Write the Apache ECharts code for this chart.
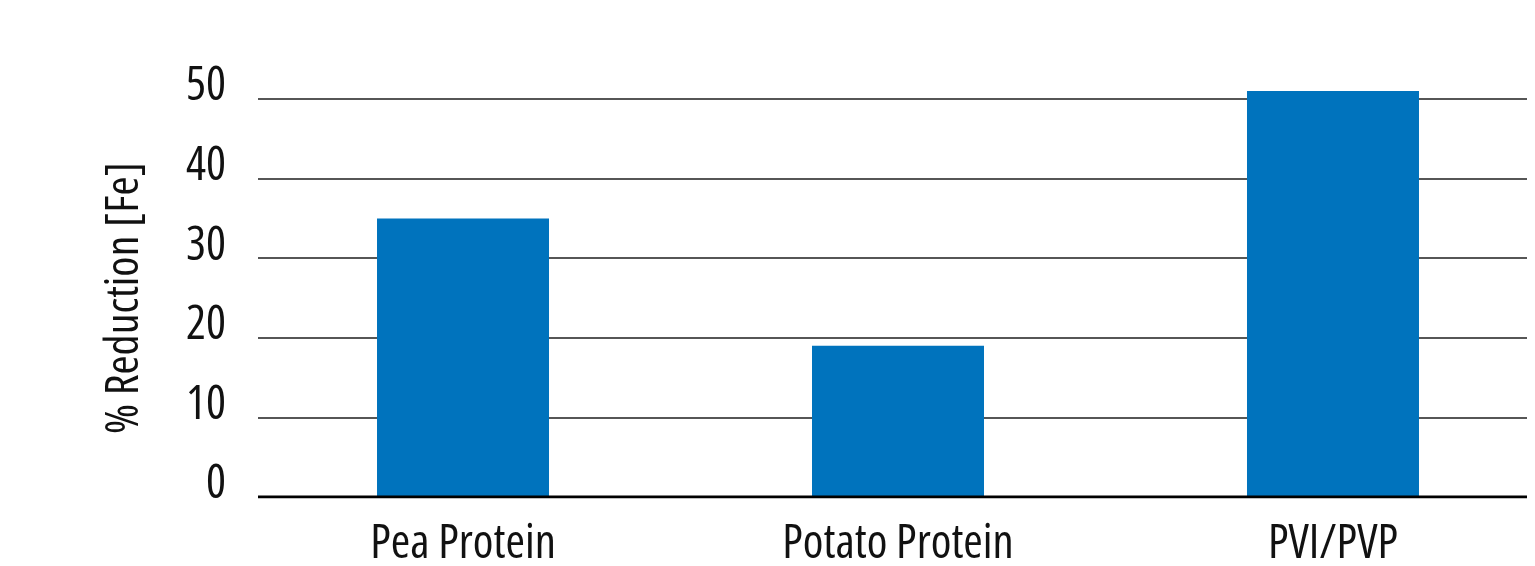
<!DOCTYPE html>
<html>
<head>
<meta charset="utf-8">
<script src="https://cdn.jsdelivr.net/npm/echarts@6/dist/echarts.min.js"></script>
<style>
html,body{margin:0;padding:0;background:#fff;}
#c{width:1535px;height:566px;}
</style>
</head>
<body>
<div id="c"></div>
<script>
var categories = ["Pea Protein", "Potato Protein", "PVI/PVP"];
var reduction = [35, 19, 51];
var yTicks = [0, 10, 20, 30, 40, 50];

var FONT = "'Open Sans', 'Liberation Sans', sans-serif";
var WEIGHT = 'normal condensed';
var barData = categories.map(function (c, i) { return [i, reduction[i]]; });
var chart = echarts.init(document.getElementById('c'));
var option = {
  backgroundColor: '#ffffff',
  animation: false,
  grid: {left: 258, right: 8, top: 99, bottom: 69, outerBoundsMode: 'none', containLabel: false},
  xAxis: {
    type: 'value', min: -0.4713, max: 2.446,
    axisLine: {show: false}, axisTick: {show: false}, splitLine: {show: false},
    axisLabel: {
      customValues: categories.map(function (c, i) { return i; }),
      formatter: function (v) { return categories[Math.round(v)]; },
      color: '#111', fontFamily: FONT, fontWeight: WEIGHT, fontSize: 47, margin: 24
    }
  },
  yAxis: {
    type: 'value', min: yTicks[0], max: yTicks[yTicks.length - 1], interval: 10,
    name: '% Reduction [Fe]', nameLocation: 'middle', nameGap: 110, nameRotate: 90,
    nameTextStyle: {color: '#111', fontFamily: FONT, fontWeight: WEIGHT, fontSize: 46},
    axisLine: {show: false}, axisTick: {show: false},
    axisLabel: {color: '#111', fontFamily: FONT, fontWeight: WEIGHT, fontSize: 47, margin: 32,
                verticalAlign: 'bottom', lineHeight: 24},
    splitLine: {show: true, lineStyle: {color: '#1e1e1e', width: 1.5}}
  },
  series: [
    {type: 'bar', data: barData, barWidth: 172, clip: false,
     itemStyle: {color: '#0073BD'}, z: 3},
    {type: 'line', data: [[-0.4713, 0], [2.446, 0]], symbol: 'none',
     lineStyle: {color: '#000', width: 3}, z: 5, silent: true}
  ]
};
chart.setOption(option);
</script>
</body>
</html>
